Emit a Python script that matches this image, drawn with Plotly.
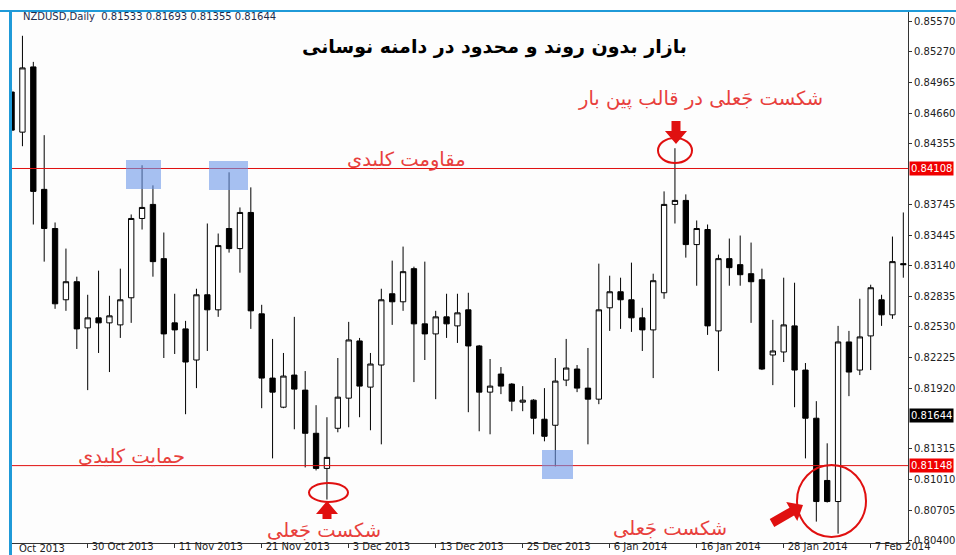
import numpy as np
import pandas as pd
import plotly.graph_objects as go

# NZDUSD daily bars, 21 Oct 2013 - 12 Feb 2014
dates = pd.bdate_range("2013-10-21", periods=83).strftime("%Y-%m-%d").tolist()

opens = [0.8487, 0.8447, 0.8512, 0.8390, 0.8351, 0.8280, 0.8298, 0.8252, 0.8262, 0.8257,
         0.8255, 0.8282, 0.8361, 0.8375, 0.8321, 0.8257, 0.8251, 0.8220, 0.8285, 0.8270,
         0.8351, 0.8331, 0.8367, 0.8266, 0.8202, 0.8173, 0.8205, 0.8190, 0.8147, 0.8112,
         0.8152, 0.8182, 0.8239, 0.8193, 0.8215, 0.8286, 0.8278, 0.8311, 0.8256, 0.8246,
         0.8263, 0.8254, 0.8270, 0.8234, 0.8188, 0.8206, 0.8196, 0.8178, 0.8180, 0.8161,
         0.8155, 0.8200, 0.8211, 0.8192, 0.8181, 0.8272, 0.8288, 0.8280, 0.8262, 0.8250,
         0.8287, 0.8375, 0.8379, 0.8335, 0.8350, 0.8249, 0.8321, 0.8315, 0.8306, 0.8300,
         0.8225, 0.8228, 0.8254, 0.8210, 0.8162, 0.8100, 0.8079, 0.8238, 0.8210, 0.8244,
         0.8280, 0.8265, 0.8316]
highs = [0.8490, 0.8543, 0.8517, 0.8444, 0.8357, 0.8331, 0.8303, 0.8285, 0.8309, 0.8284,
         0.8311, 0.8365, 0.8414, 0.8394, 0.8347, 0.8286, 0.8259, 0.8291, 0.8356, 0.8346,
         0.8407, 0.8372, 0.8392, 0.8275, 0.8241, 0.8227, 0.8263, 0.8209, 0.8175, 0.8163,
         0.8222, 0.8258, 0.8242, 0.8227, 0.8291, 0.8319, 0.8333, 0.8313, 0.8318, 0.8269,
         0.8286, 0.8286, 0.8287, 0.8235, 0.8221, 0.8213, 0.8197, 0.8194, 0.8181, 0.8192,
         0.8222, 0.8241, 0.8215, 0.8232, 0.8316, 0.8304, 0.8302, 0.8317, 0.8272, 0.8306,
         0.8388, 0.8431, 0.8385, 0.8359, 0.8355, 0.8325, 0.8341, 0.8344, 0.8337, 0.8311,
         0.8260, 0.8302, 0.8297, 0.8217, 0.8179, 0.8137, 0.8254, 0.8249, 0.8281, 0.8295,
         0.8285, 0.8343, 0.8367]
lows = [0.8446, 0.8433, 0.8355, 0.8318, 0.8271, 0.8269, 0.8231, 0.8190, 0.8227, 0.8208,
        0.8242, 0.8257, 0.8350, 0.8303, 0.8222, 0.8226, 0.8166, 0.8192, 0.8229, 0.8263,
        0.8327, 0.8307, 0.8251, 0.8172, 0.8122, 0.8172, 0.8151, 0.8113, 0.8110, 0.8081,
        0.8148, 0.8153, 0.8163, 0.8150, 0.8136, 0.8255, 0.8269, 0.8198, 0.8220, 0.8181,
        0.8242, 0.8237, 0.8168, 0.8149, 0.8146, 0.8186, 0.8169, 0.8169, 0.8146, 0.8139,
        0.8114, 0.8194, 0.8188, 0.8136, 0.8176, 0.8249, 0.8251, 0.8248, 0.8229, 0.8202,
        0.8281, 0.8356, 0.8322, 0.8294, 0.8245, 0.8209, 0.8294, 0.8294, 0.8257, 0.8210,
        0.8195, 0.8218, 0.8173, 0.8122, 0.8059, 0.8078, 0.8047, 0.8184, 0.8205, 0.8210,
        0.8254, 0.8261, 0.8302]
closes = [0.8449, 0.8511, 0.8388, 0.8351, 0.8276, 0.8298, 0.8251, 0.8262, 0.8257, 0.8264,
          0.8280, 0.8361, 0.8372, 0.8318, 0.8246, 0.8250, 0.8218, 0.8285, 0.8270, 0.8334,
          0.8331, 0.8367, 0.8269, 0.8202, 0.8188, 0.8204, 0.8191, 0.8147, 0.8112, 0.8123,
          0.8183, 0.8240, 0.8194, 0.8216, 0.8280, 0.8278, 0.8308, 0.8256, 0.8246, 0.8263,
          0.8256, 0.8267, 0.8234, 0.8188, 0.8194, 0.8194, 0.8179, 0.8180, 0.8162, 0.8144,
          0.8199, 0.8212, 0.8192, 0.8181, 0.8270, 0.8288, 0.8280, 0.8262, 0.8250, 0.8299,
          0.8375, 0.8379, 0.8335, 0.8351, 0.8254, 0.8321, 0.8312, 0.8305, 0.8298, 0.8211,
          0.8229, 0.8255, 0.8210, 0.8162, 0.8079, 0.8079, 0.8238, 0.8208, 0.8243, 0.8292,
          0.8265, 0.8318, 0.8315]

resistance = 0.84108
support = 0.81148
last_price = 0.81644
header_ohlc = [0.81533, 0.81693, 0.81355, 0.81644]

# 0.84050 and 0.81615 sit under the level labels, so they are left out
price_ticks = [0.85570, 0.85270, 0.84965, 0.84660, 0.84355, 0.83745, 0.83445,
               0.83140, 0.82835, 0.82530, 0.82225, 0.81920, 0.81315, 0.81010,
               0.80705, 0.80400]
date_ticks = ["2013-10-30", "2013-11-11", "2013-11-21", "2013-12-03", "2013-12-13",
              "2013-12-25", "2014-01-06", "2014-01-16", "2014-01-28", "2014-02-07"]
date_labels = ["30 Oct 2013", "11 Nov 2013", "21 Nov 2013", "3 Dec 2013", "13 Dec 2013",
               "25 Dec 2013", "6 Jan 2014", "16 Jan 2014", "28 Jan 2014", "7 Feb 2014"]

W, H = 956, 555
L, R, T, B = 12, 48, 12, 12
RED = "#e01010"
TXT_RED = "#e8403c"
FONT = "DejaVu Sans"


def px(x):
    return (x - L) / (W - L - R)


def py(y):
    return 1 - (y - T) / (H - T - B)


def arrow_path(tail, tip, shaft=4.5, head=11, head_len=13):
    t = np.array(tail, float)
    p = np.array(tip, float)
    d = (p - t) / np.linalg.norm(p - t)
    n = np.array([-d[1], d[0]])
    b = p - d * head_len
    pts = [t + n * shaft, b + n * shaft, b + n * head, p, b - n * head, b - n * shaft, t - n * shaft]
    return "M " + " L ".join(f"{px(q[0]):.5f},{py(q[1]):.5f}" for q in pts) + " Z"


fig = go.Figure()
fig.add_trace(
    go.Candlestick(
        x=dates, open=opens, high=highs, low=lows, close=closes,
        increasing=dict(line=dict(color="black", width=1), fillcolor="white"),
        decreasing=dict(line=dict(color="black", width=1), fillcolor="black"),
        whiskerwidth=0, showlegend=False, hoverinfo="skip",
    )
)

shapes = []
# key levels
for lvl in (resistance, support):
    shapes.append(dict(type="line", xref="paper", x0=0, x1=1, yref="y", y0=lvl, y1=lvl,
                       line=dict(color=RED, width=1)))
# blue highlight boxes
for x0, y0, x1, y1 in [(126, 160, 161, 189), (209, 161, 248, 190), (542, 450, 573, 479)]:
    shapes.append(dict(type="rect", xref="paper", yref="paper", x0=px(x0), x1=px(x1),
                       y0=py(y1), y1=py(y0), fillcolor="#6d98ea", opacity=0.6,
                       line=dict(width=0), layer="above"))
# red circles
for x0, y0, x1, y1 in [(658, 138, 692, 163), (309, 483, 348, 502), (797, 465, 866, 537)]:
    shapes.append(dict(type="circle", xref="paper", yref="paper", x0=px(x0), x1=px(x1),
                       y0=py(y1), y1=py(y0), line=dict(color=RED, width=2)))
# red arrows
for tail, tip in [((676, 121), (676, 144)), ((327, 519), (327, 501)), ((772, 523), (803, 505))]:
    shapes.append(dict(type="path", xref="paper", yref="paper", path=arrow_path(tail, tip),
                       fillcolor=RED, line=dict(width=0)))
# window border (blue) like the terminal frame
shapes.append(dict(type="line", xref="paper", yref="paper", x0=px(0), x1=px(W), y0=py(11), y1=py(11),
                   line=dict(color="#1f9ad8", width=2)))
shapes.append(dict(type="line", xref="paper", yref="paper", x0=px(10.5), x1=px(10.5), y0=py(11), y1=py(H),
                   line=dict(color="#1f9ad8", width=3)))

annotations = []


def text(x, y, s, size, color, anchor="center", bold=False):
    annotations.append(dict(xref="paper", yref="paper", x=px(x), y=py(y), text=f"<b>{s}</b>" if bold else s,
                            showarrow=False, xanchor=anchor, yanchor="middle",
                            font=dict(family=FONT, size=size, color=color)))


text(21, 17, "NZDUSD,Daily  " + " ".join(f"{v:.5f}" for v in header_ohlc), 10, "#1c2c4c", anchor="left")
text(494, 46, "بازار بدون روند و محدود در دامنه نوسانی", 19, "black", bold=True)
text(700, 98, "شکست جَعلی در قالب پین بار", 19.5, TXT_RED)
text(406, 159, "مقاومت کلیدی", 19.5, TXT_RED)
text(131, 456, "حمایت کلیدی", 19.5, TXT_RED)
text(324, 530, "شکست جَعلی", 19.5, TXT_RED)
text(670, 528, "شکست جَعلی", 19.5, TXT_RED)
text(17, 548, "Oct 2013", 10, "#222", anchor="left")

# price labels on the axis
for val, bg in [(resistance, "#f00000"), (support, "#f00000"), (last_price, "black")]:
    annotations.append(dict(xref="paper", yref="y", x=1, y=val, xanchor="left", xshift=1,
                            text=f"{val:.5f}", showarrow=False, bgcolor=bg, borderpad=1,
                            font=dict(family=FONT, size=10, color="white")))

fig.update_layout(
    width=W, height=H,
    margin=dict(l=L, r=R, t=T, b=B),
    paper_bgcolor="white", plot_bgcolor="#fdfdfd",
    boxgap=0.3,
    shapes=shapes, annotations=annotations,
    font=dict(family=FONT, size=10, color="#222"),
    xaxis=dict(type="category", range=[0.04, 82.43], rangeslider=dict(visible=False),
               tickvals=date_ticks, ticktext=date_labels, ticks="outside", ticklen=4,
               tickcolor="#333", ticklabelposition="outside right", ticklabelstandoff=-6,
               ticklabelshift=3, automargin=False, showline=True, linecolor="#333",
               linewidth=1, showgrid=False),
    yaxis=dict(side="right", range=[0.80377, 0.85667], tickvals=price_ticks,
               ticktext=[f"{v:.5f}" for v in price_ticks], ticks="outside", ticklen=3,
               tickcolor="#333", showline=True, linecolor="#333", linewidth=1,
               showgrid=False, zeroline=False, automargin=False),
)

# no page margin, and clip anything that runs past the 956x555 figure (like the terminal does)
page_fix = (
    "document.body.style.margin='0px';"
    "document.body.style.overflow='hidden';"
    "var gd=document.getElementsByClassName('plotly-graph-div')[0];"
    "gd.style.overflow='hidden';"
)
fig.write_html("out.html", config={"displayModeBar": False}, post_script=page_fix)
